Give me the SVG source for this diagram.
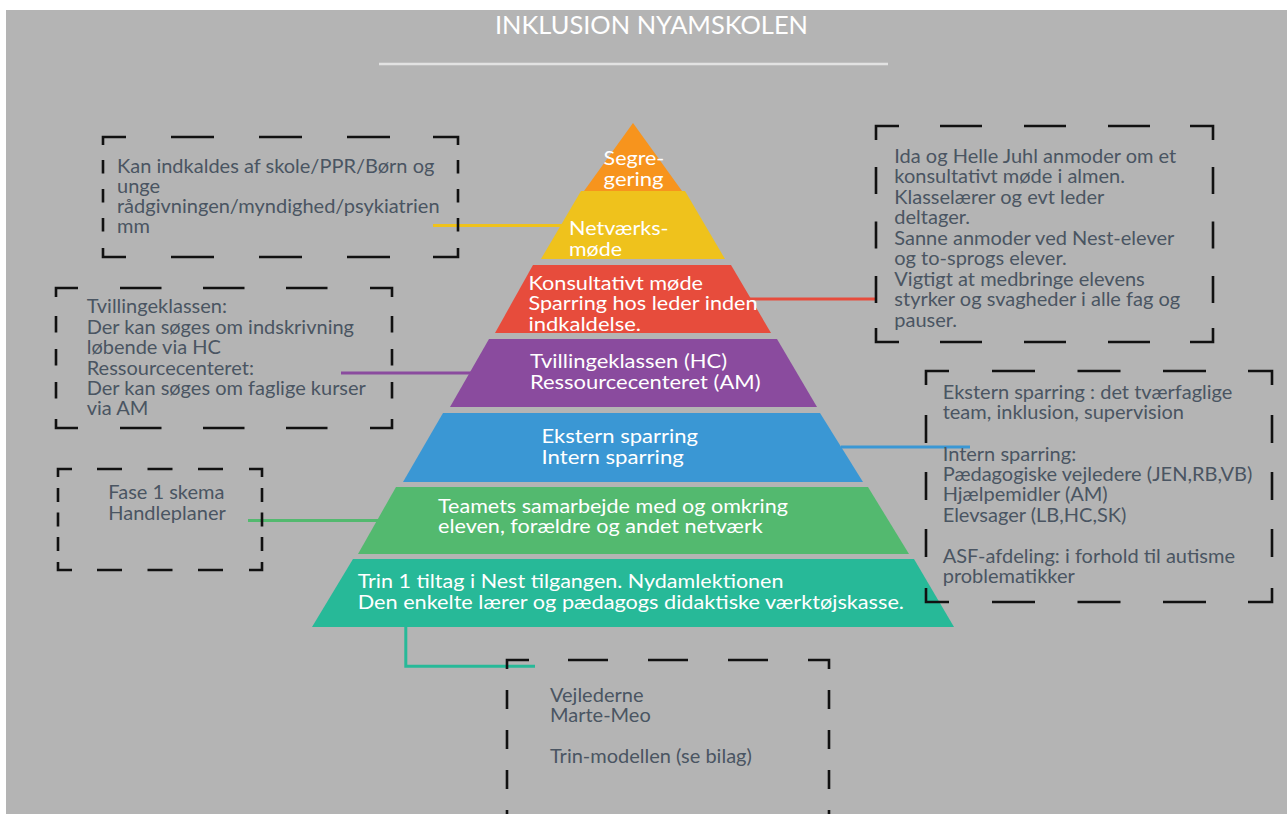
<svg xmlns="http://www.w3.org/2000/svg" width="1287" height="814" viewBox="0 0 1287 814">
<style>
.bg{fill:#b4b4b4}
.title{font-family:Lato,"Liberation Sans",sans-serif;font-size:25px;fill:#ffffff}
.pt{font-family:Lato,"Liberation Sans",sans-serif;font-size:19.5px;fill:#ffffff}
.bt{font-family:Lato,"Liberation Sans",sans-serif;font-size:20px;fill:#4a5562}
.box{fill:none;stroke:#111111;stroke-width:2.6}
.con{fill:none;stroke-width:3}
</style>
<rect x="0" y="0" width="1287" height="814" fill="#ffffff"/>
<rect class="bg" x="6" y="10" width="1281" height="804"/>
<g id="title">
<text class="title" x="495" y="34" textLength="313" lengthAdjust="spacingAndGlyphs">INKLUSION NYAMSKOLEN</text>
<line x1="379" y1="64" x2="888" y2="64" stroke="#e2e2e2" stroke-width="2.5"/>
</g>
<g id="connectors">
<line class="con" stroke="#efc21c" x1="433" y1="225.5" x2="562" y2="225.5"/>
<line class="con" stroke="#e74c3c" x1="749" y1="299" x2="877" y2="299"/>
<line class="con" stroke="#8a4b9e" x1="341" y1="373" x2="472" y2="373"/>
<line class="con" stroke="#3a97d4" x1="841" y1="447" x2="970" y2="447"/>
<line class="con" stroke="#53b96f" x1="248" y1="520.5" x2="380" y2="520.5"/>
<polyline class="con" stroke="#27b998" points="405.8,626 405.8,666.3 535,666.3"/>
</g>
<g id="layer-segregering">
<polygon fill="#f7941d" points="633,123 682,191 584,191"/>
<text class="pt" x="603.6" y="165" textLength="60.7" lengthAdjust="spacingAndGlyphs">Segre-</text>
<text class="pt" x="603.6" y="186" textLength="60" lengthAdjust="spacingAndGlyphs">gering</text>
</g>
<g id="layer-netvaerk">
<polygon fill="#efc21c" points="581,191 685,191 725,259 541,259"/>
<text class="pt" x="569" y="235" textLength="99.6" lengthAdjust="spacingAndGlyphs">Netværks-</text>
<text class="pt" x="569" y="255.5" textLength="53" lengthAdjust="spacingAndGlyphs">møde</text>
</g>
<g id="layer-konsultativt">
<polygon fill="#e74c3c" points="533,265 731,265 771,333 495,333"/>
<text class="pt" x="528.5" y="290" textLength="174.5" lengthAdjust="spacingAndGlyphs">Konsultativt møde</text>
<text class="pt" x="528.5" y="310" textLength="229" lengthAdjust="spacingAndGlyphs">Sparring hos leder inden</text>
<text class="pt" x="528.5" y="330.5" textLength="112.5" lengthAdjust="spacingAndGlyphs">indkaldelse.</text>
</g>
<g id="layer-tvilling">
<polygon fill="#8a4b9e" points="489,339 777,339 817,407 450,407"/>
<text class="pt" x="530" y="367.7" textLength="197" lengthAdjust="spacingAndGlyphs">Tvillingeklassen (HC)</text>
<text class="pt" x="530" y="389" textLength="230.5" lengthAdjust="spacingAndGlyphs">Ressourcecenteret (AM)</text>
</g>
<g id="layer-sparring">
<polygon fill="#3a97d4" points="443,413 820,413 863,482 403,482"/>
<text class="pt" x="541.5" y="442.7" textLength="156.5" lengthAdjust="spacingAndGlyphs">Ekstern sparring</text>
<text class="pt" x="541.5" y="464" textLength="142.3" lengthAdjust="spacingAndGlyphs">Intern sparring</text>
</g>
<g id="layer-teamet">
<polygon fill="#53b96f" points="396,487 868,487 909,554 358,554"/>
<text class="pt" x="438" y="512.7" textLength="350" lengthAdjust="spacingAndGlyphs">Teamets samarbejde med og omkring</text>
<text class="pt" x="438" y="533.3" textLength="324.7" lengthAdjust="spacingAndGlyphs">eleven, forældre og andet netværk</text>
</g>
<g id="layer-trin1">
<polygon fill="#27b998" points="353,559 914,559 954,627 312,627"/>
<text class="pt" x="357.7" y="587.7" textLength="425.8" lengthAdjust="spacingAndGlyphs">Trin 1 tiltag i Nest tilgangen. Nydamlektionen</text>
<text class="pt" x="357.7" y="609.3" textLength="546.3" lengthAdjust="spacingAndGlyphs">Den enkelte lærer og pædagogs didaktiske værktøjskasse.</text>
</g>
<g id="box-netvaerk">
<path class="box" d="M103,145 V137 H126 M433,137 H458 V145 M103,248 V257 H126 M433,257 H458 V248"/>
<path class="box" stroke-dasharray="43 45" d="M171,137 H390 M171,257 H390"/>
<path class="box" stroke-dasharray="13.5 15.5" d="M103,160 V232 M458,160 V232"/>
<text class="bt" x="117" y="172.7">Kan indkaldes af skole/PPR/Børn og</text>
<text class="bt" x="117" y="192.7">unge</text>
<text class="bt" x="117" y="212.7">rådgivningen/myndighed/psykiatrien</text>
<text class="bt" x="117" y="233">mm</text>
</g>
<g id="box-konsultativt">
<path class="box" d="M876,140 V126 H899 M1190,126 H1213 V140 M876,328 V342 H899 M1190,342 H1213 V328"/>
<path class="box" stroke-dasharray="42 42" d="M940,126 H1150 M940,342 H1150"/>
<path class="box" stroke-dasharray="27 27.5" d="M876,167 V303 M1213,167 V303"/>
<text class="bt" x="894.3" y="162.7">Ida og Helle Juhl anmoder om et</text>
<text class="bt" x="894.3" y="183.3">konsultativt møde i almen.</text>
<text class="bt" x="894.3" y="204">Klasselærer og evt leder</text>
<text class="bt" x="894.3" y="224.3">deltager.</text>
<text class="bt" x="894.3" y="245">Sanne anmoder ved Nest-elever</text>
<text class="bt" x="894.3" y="265.3">og to-sprogs elever.</text>
<text class="bt" x="894.3" y="285.7">Vigtigt at medbringe elevens</text>
<text class="bt" x="894.3" y="306.3">styrker og svagheder i alle fag og</text>
<text class="bt" x="894.3" y="326.7">pauser.</text>
</g>
<g id="box-tvilling">
<path class="box" d="M56,297 V288 H78 M370,288 H392 V297 M56,419 V428 H78 M370,428 H392 V419"/>
<path class="box" stroke-dasharray="41.5 41.5" d="M120,288 H328 M120,428 H328"/>
<path class="box" stroke-dasharray="16.5 16.5" d="M56,316 V399 M392,316 V399"/>
<text class="bt" x="86.7" y="313.3">Tvillingeklassen:</text>
<text class="bt" x="86.7" y="334">Der kan søges om indskrivning</text>
<text class="bt" x="86.7" y="354.3">løbende via HC</text>
<text class="bt" x="86.7" y="375">Ressourcecenteret:</text>
<text class="bt" x="86.7" y="395.3">Der kan søges om faglige kurser</text>
<text class="bt" x="86.7" y="415.3">via AM</text>
</g>
<g id="box-sparring">
<path class="box" d="M926,385 V371 H949 M1248,371 H1272 V385 M926,588 V602 H949 M1248,602 H1272 V588"/>
<path class="box" stroke-dasharray="43 42.5" d="M992,371 H1207 M992,602 H1207"/>
<path class="box" stroke-dasharray="28 29" d="M926,415 V558 M1272,415 V558"/>
<text class="bt" x="942.7" y="399.3">Ekstern sparring : det tværfaglige</text>
<text class="bt" x="942.7" y="419.3">team, inklusion, supervision</text>
<text class="bt" x="942.7" y="460.7">Intern sparring:</text>
<text class="bt" x="942.7" y="480.7">Pædagogiske vejledere (JEN,RB,VB)</text>
<text class="bt" x="942.7" y="501.3">Hjælpemidler (AM)</text>
<text class="bt" x="942.7" y="522">Elevsager (LB,HC,SK)</text>
<text class="bt" x="942.7" y="562.7">ASF-afdeling: i forhold til autisme</text>
<text class="bt" x="942.7" y="582.7">problematikker</text>
</g>
<g id="box-fase1">
<path class="box" d="M58,477 V469 H72 M249,469 H262 V477 M58,562 V570 H72 M249,570 H262 V562"/>
<path class="box" stroke-dasharray="25 25.5" d="M97,469 H223 M97,570 H223"/>
<path class="box" stroke-dasharray="14 10.5" d="M58,488 V551 M262,488 V551"/>
<text class="bt" x="108.3" y="499.3">Fase 1 skema</text>
<text class="bt" x="108.3" y="520">Handleplaner</text>
</g>
<g id="box-vejledere">
<path class="box" d="M507,669 V660 H529 M808,660 H829 V669"/>
<path class="box" stroke-dasharray="40 40" d="M568,660 H768"/>
<path class="box" stroke-dasharray="19 21" d="M507,690 V830 M829,690 V830"/>
<text class="bt" x="550" y="701.7">Vejlederne</text>
<text class="bt" x="550" y="721.7">Marte-Meo</text>
<text class="bt" x="550" y="763.3">Trin-modellen (se bilag)</text>
</g>
</svg>
